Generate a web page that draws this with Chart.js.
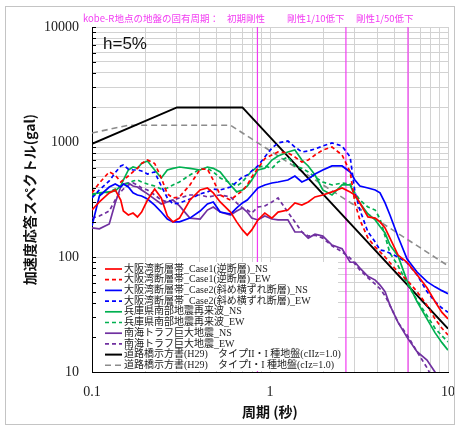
<!DOCTYPE html>
<html>
<head>
<meta charset="utf-8">
<script src="https://cdn.jsdelivr.net/npm/chart.js@4.4.1/dist/chart.umd.min.js"></script>
<style>
  html, body { margin: 0; padding: 0; background: #fff; }
  #wrap { position: relative; width: 458px; height: 427px; }
  #wrap canvas { position: absolute; left: 0; top: 0; }
  #frame { position: absolute; left: 5px; top: 6px; width: 448px; height: 417px;
           border: 1px solid #c4c4c4; pointer-events: none; }
</style>
</head>
<body>
<div id="wrap">
  <canvas id="chart" width="458" height="427"></canvas>
  <div id="frame"></div>
</div>
<script>
// Periods (s) at which the response spectra are sampled
const periods = [0.1, 0.11, 0.125, 0.135, 0.145, 0.15, 0.16, 0.17, 0.18, 0.19,
  0.205, 0.225, 0.245, 0.265, 0.285, 0.31, 0.355, 0.405, 0.445, 0.48,
  0.525, 0.6, 0.65, 0.7, 0.745, 0.79, 0.855, 0.935, 1.025, 1.11,
  1.26, 1.38, 1.51, 1.64, 1.79, 1.98, 2.23, 2.54, 2.82, 3.0,
  3.2, 3.55, 3.9, 4.15, 4.43, 4.72, 5.24, 5.89, 6.7, 7.62,
  8.45, 9.25, 10];

// Acceleration response spectra (gal), h = 5%
const osakaCase1NS = [256, 301, 361, 383, 313, 251, 232, 241, 223, 246,
  313, 390, 326, 227, 202, 218, 313, 383, 398, 361,
  301, 246, 202, 172, 155, 172, 210, 241, 218, 246,
  256, 295, 283, 301, 333, 346, 368, 398, 368, 346,
  295, 223, 218, 202, 179, 146, 104, 90, 70, 54,
  41, 33, 29];
const osakaCase1EW = [361, 440, 549, 516, 449, 467, 506, 549, 590, 650,
  697, 650, 487, 354, 326, 333, 423, 580, 580, 467,
  346, 313, 346, 376, 423, 496, 590, 718, 771, 819,
  805, 741, 670, 697, 771, 852, 904, 771, 549, 295,
  210, 146, 122, 111, 100, 89, 74, 63, 50, 38,
  29, 24, 21];
const osakaCase2NS = [187, 339, 406, 431, 406, 431, 406, 361, 346, 339,
  319, 283, 246, 214, 202, 202, 218, 251, 289, 301,
  246, 236, 267, 295, 313, 346, 398, 423, 440, 449,
  467, 506, 449, 476, 527, 571, 619, 619, 549, 467,
  414, 398, 383, 361, 295, 232, 150, 96, 74, 61,
  55, 51, 48];
const osakaCase2EW = [326, 383, 458, 541, 619, 631, 580, 571, 571, 560,
  527, 549, 414, 326, 289, 295, 319, 354, 368, 390,
  383, 406, 449, 496, 516, 560, 619, 741, 886, 981,
  1020, 904, 819, 835, 869, 923, 981, 923, 741, 368,
  256, 165, 135, 115, 113, 108, 100, 89, 70, 50,
  41, 36, 33];
const hyogoNS = [353, 361, 368, 376, 414, 467, 571, 606, 590, 650,
  683, 571, 487, 571, 590, 606, 590, 571, 606, 590,
  549, 423, 368, 383, 414, 467, 571, 590, 697, 755,
  819, 852, 697, 619, 516, 383, 346, 423, 423, 339,
  295, 237, 210, 184, 162, 127, 102, 62, 41, 29,
  22, 18, 15.5];
const hyogoEW = [346, 352, 368, 390, 414, 423, 440, 458, 467, 449,
  431, 414, 390, 398, 423, 449, 516, 580, 590, 549,
  487, 440, 414, 449, 506, 560, 606, 619, 590, 670,
  741, 619, 590, 549, 496, 449, 423, 440, 431, 361,
  313, 272, 256, 214, 152, 108, 84, 59, 42, 31,
  24, 20.6, 18.3];
const nankaiNS = [179, 176, 194, 295, 406, 431, 440, 414, 406, 383,
  354, 319, 289, 301, 313, 278, 218, 214, 256, 272,
  246, 232, 251, 267, 246, 218, 210, 227, 214, 210,
  210, 165, 165, 146, 158, 152, 127, 118, 90, 90,
  80, 68, 63, 57, 50, 38, 27, 20, 15, 12.7,
  10, 8, null];
const nankaiEW = [218, 227, 251, 313, 368, 390, 423, 440, 423, 398,
  383, 346, 313, 301, 313, 326, 346, 346, 333, 339,
  346, 333, 295, 267, 256, 241, 272, 278, 301, 326,
  246, 202, 165, 152, 155, 146, 125, 111, 98, 87,
  77, 66, 58, 53, 46, 38, 27, 21, 15, 10.9,
  8, null, null];

// Design spectra of the Specifications for Highway Bridges (H29), ground type I
const designTypeIIPeriods = [0.1, 0.3, 0.7, 10];
const designTypeIIValues = [962, 2000, 2000, 23.8];
const designTypeIPeriods = [0.1, 0.16, 0.6, 10];
const designTypeIValues = [1198, 1400, 1400, 84];

// Natural periods of the kobe-R site ground: initial, 1/10 and 1/50 stiffness
const sitePeriods = [0.85, 2.67, 5.96];

// Axis grid values and labelled ticks
const xGridValues = [0.1, 0.2, 0.3, 0.4, 0.5, 0.6, 0.7, 0.8, 0.9,
  1, 2, 3, 4, 5, 6, 7, 8, 9, 10];
const yGridValues = [10, 20, 30, 40, 50, 60, 70, 80, 90,
  100, 200, 300, 400, 500, 600, 700, 800, 900,
  1000, 2000, 3000, 4000, 5000, 6000, 7000, 8000, 9000, 10000];
const xTickLabels = [0.1, 1, 10];
const yTickLabels = [10, 100, 1000, 10000];

const seriesNames = [
  '大阪湾断層帯_Case1(逆断層)_NS',
  '大阪湾断層帯_Case1(逆断層)_EW',
  '大阪湾断層帯_Case2(斜め横ずれ断層)_NS',
  '大阪湾断層帯_Case2(斜め横ずれ断層)_EW',
  '兵庫県南部地震再来波_NS',
  '兵庫県南部地震再来波_EW',
  '南海トラフ巨大地震_NS',
  '南海トラフ巨大地震_EW',
  '道路橋示方書(H29)　タイプII・I 種地盤(cIIz=1.0)',
  '道路橋示方書(H29)　タイプI・I 種地盤(cIz=1.0)'
];

const toPoints = (xs, ys) => xs.map((x, i) => ({ x: x, y: ys[i] }));

const RED = '#ff0000', BLUE = '#0000ff', GREEN = '#00b050', PURPLE = '#7030a0';
const DASH = [4, 3];

function spectrum(label, values, color, dash) {
  return {
    label: label,
    data: toPoints(periods, values),
    borderColor: color,
    borderWidth: 1.7,
    borderDash: dash || [],
    pointRadius: 0,
    fill: false,
    tension: 0,
    spanGaps: false
  };
}

const seriesSets = [
  spectrum(seriesNames[0], osakaCase1NS, RED),
  spectrum(seriesNames[1], osakaCase1EW, RED, DASH),
  spectrum(seriesNames[2], osakaCase2NS, BLUE),
  spectrum(seriesNames[3], osakaCase2EW, BLUE, DASH),
  spectrum(seriesNames[4], hyogoNS, GREEN),
  spectrum(seriesNames[5], hyogoEW, GREEN, DASH),
  spectrum(seriesNames[6], nankaiNS, PURPLE),
  spectrum(seriesNames[7], nankaiEW, PURPLE, DASH),
  {
    label: seriesNames[8],
    data: toPoints(designTypeIIPeriods, designTypeIIValues),
    borderColor: '#000000', borderWidth: 2, borderDash: [],
    pointRadius: 0, fill: false, tension: 0
  },
  {
    label: seriesNames[9],
    data: toPoints(designTypeIPeriods, designTypeIValues),
    borderColor: '#8c8c8c', borderWidth: 1.6, borderDash: [6, 4],
    pointRadius: 0, fill: false, tension: 0
  }
];

const markerSets = sitePeriods.map(p => ({
  label: 'site-' + p,
  data: [{ x: p, y: 10 }, { x: p, y: 10000 }],
  borderColor: '#f23cf2',
  borderWidth: 1.2,
  pointRadius: 0,
  fill: false
}));

const TICK_FONT = { family: '"Liberation Serif", "Times New Roman", serif', size: 14 };
const JP_SANS = '"Noto Sans CJK JP", "Noto Sans", sans-serif';

// Legend box inside the plot area, inner tick marks and annotation texts
const insetLegend = {
  id: 'insetLegend',
  afterDatasetsDraw(chart) {
    const { ctx, chartArea } = chart;
    const left = chartArea.left, bottom = chartArea.bottom;
    ctx.save();
    ctx.fillStyle = '#ffffff';
    ctx.fillRect(left + 1, bottom - 110, 245, 109);
    ctx.font = '10px "Liberation Serif", "Noto Sans CJK JP", serif';
    ctx.textBaseline = 'middle';
    ctx.textAlign = 'left';
    seriesSets.forEach((ds, i) => {
      const y = bottom - 103 + i * 10.7;
      ctx.strokeStyle = ds.borderColor;
      ctx.lineWidth = ds.borderWidth;
      ctx.setLineDash(ds.borderDash);
      ctx.beginPath();
      ctx.moveTo(left + 13, y);
      ctx.lineTo(left + 30, y);
      ctx.stroke();
      ctx.setLineDash([]);
      ctx.fillStyle = '#222';
      ctx.fillText(ds.label, left + 32, y);
    });
    // short inward tick marks on the value axis
    const yScale = chart.scales.y;
    ctx.strokeStyle = '#000';
    ctx.lineWidth = 1;
    ctx.beginPath();
    yGridValues.forEach(v => {
      const py = Math.round(yScale.getPixelForValue(v)) + 0.5;
      ctx.moveTo(left, py);
      ctx.lineTo(left + 4, py);
    });
    ctx.stroke();
    ctx.restore();
  },
  afterDraw(chart) {
    const { ctx, chartArea } = chart;
    ctx.save();
    ctx.textBaseline = 'middle';
    ctx.textAlign = 'left';
    ctx.fillStyle = '#111';
    ctx.font = '17px "Liberation Sans", Arial, sans-serif';
    ctx.fillText('h=5%', chartArea.left + 11, chartArea.top + 17);
    ctx.fillStyle = '#f23cf2';
    ctx.font = '9.5px ' + JP_SANS;
    const y = chartArea.top - 9;
    ctx.fillText('kobe-R地点の地盤の固有周期：', 83, y);
    ctx.fillText('初期剛性', 227, y);
    ctx.fillText('剛性1/10低下', 287, y);
    ctx.fillText('剛性1/50低下', 356, y);
    ctx.restore();
  }
};

new Chart(document.getElementById('chart'), {
  type: 'line',
  data: { datasets: seriesSets.concat(markerSets) },
  options: {
    responsive: false,
    animation: false,
    devicePixelRatio: 1,
    layout: { padding: { left: 0, right: 10, top: 27, bottom: 0 } },
    plugins: { legend: { display: false }, tooltip: { enabled: false } },
    scales: {
      x: {
        type: 'logarithmic',
        min: 0.1, max: 10,
        afterBuildTicks: s => { s.ticks = xGridValues.map(v => ({ value: v })); },
        afterFit: s => { s.height = 55; s.paddingLeft = 0; s.paddingRight = 0; },
        ticks: {
          autoSkip: false, maxRotation: 0, padding: 12,
          font: TICK_FONT, color: '#222',
          callback: v => (xTickLabels.includes(v) ? String(v) : '')
        },
        grid: { color: '#d2d2d2', lineWidth: 1, drawTicks: false },
        border: { color: '#000', width: 1 },
        title: {
          display: true, text: '周期 (秒)', color: '#111',
          font: { family: JP_SANS, size: 14, weight: 'bold' },
          padding: { top: 0, bottom: 7 }
        }
      },
      y: {
        type: 'logarithmic',
        min: 10, max: 10000,
        afterBuildTicks: s => { s.ticks = yGridValues.map(v => ({ value: v })); },
        afterFit: s => { s.width = 92; s.paddingTop = 0; s.paddingBottom = 0; },
        ticks: {
          autoSkip: false, padding: 13,
          font: TICK_FONT, color: '#222',
          callback: v => (yTickLabels.includes(v) ? String(v) : '')
        },
        grid: { color: '#d2d2d2', lineWidth: 1, drawTicks: false },
        border: { color: '#000', width: 1 },
        title: {
          display: true, text: '加速度応答スペクトル(gal)', color: '#111',
          font: { family: JP_SANS, size: 14, weight: 'bold' },
          padding: { top: 21, bottom: 0 }
        }
      }
    }
  },
  plugins: [insetLegend]
});
</script>
</body>
</html>
